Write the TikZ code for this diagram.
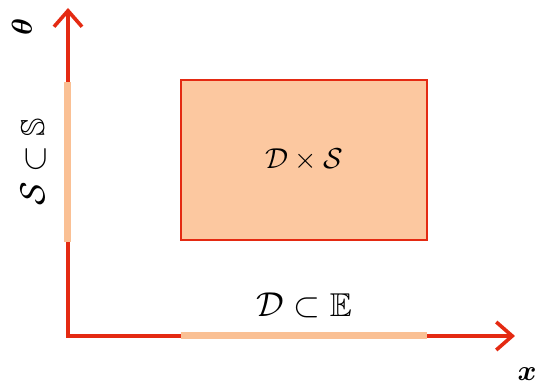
\documentclass[tikz,border=0pt]{standalone}
\usepackage{amsmath,amssymb}
\usepackage{tikz}
\usetikzlibrary{positioning,arrows.meta}
\usepackage{xcolor}
\definecolor{axisred}{RGB}{228,42,18}
\definecolor{peach}{RGB}{252,200,160}
\definecolor{peachline}{RGB}{250,192,148}

\begin{document}
\begin{tikzpicture}[x=0.5pt,y=0.5pt,>={Straight Barb[length=8pt,width=14pt,line width=1.8pt]},font=\Large]
\useasboundingbox (0,0) rectangle (538,386);
\coordinate (O) at (68,50);
\coordinate (xend) at (515,50);
\coordinate (yend) at (68,378);
\coordinate (d0) at (181,50);
\coordinate (d1) at (427,50);
\coordinate (s0) at (68,144);
\coordinate (s1) at (68,304);
\draw[<->,axisred,line width=1.8pt] (yend) -- (O) -- (xend);
\draw[peachline,line width=3.5pt] (d0) -- (d1) node[midway,above=4pt,text=black,font=\fontsize{16.5}{20}\selectfont]{$\mathcal{D}\subset\mathbb{E}$};
\draw[peachline,line width=3.5pt] (s0) -- (s1) node[midway,sloped,above=6pt,text=black,font=\fontsize{16.5}{20}\selectfont]{$\mathcal{S}\subset\mathbb{S}$};
\node[draw=axisred,fill=peach,line width=1.2pt,minimum width=123pt,minimum height=80pt] (prod) at (304,226) {$\mathcal{D}\times\mathcal{S}$};
\node[rotate=90] (theta) at (22,359) {$\boldsymbol{\theta}$};
\node (xlab) at (527,12) {$\boldsymbol{x}$};
\end{tikzpicture}
\end{document}
